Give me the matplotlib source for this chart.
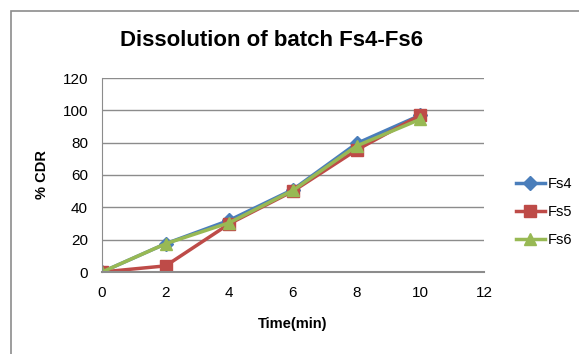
import numpy as np
import matplotlib
matplotlib.use("Agg")
import matplotlib.pyplot as plt
from matplotlib.patches import Rectangle

time_min = [0, 2, 4, 6, 8, 10]
fs4 = [0, 17.5, 32, 51, 79.5, 97]
fs5 = [0, 3.8, 29.8, 50, 75.5, 97]
fs6 = [0, 17.5, 30.5, 50.5, 78, 94.5]
series_names = ["Fs4", "Fs5", "Fs6"]

plt.rcParams['font.family'] = ['Liberation Sans Narrow', 'Liberation Sans', 'DejaVu Sans']

fig = plt.figure(figsize=(5.79, 3.54), dpi=100)
# outer chart border (partially cut by the image edge)
fig.patches.append(Rectangle((11/579, -0.1), 1.0, 1 - 11/354 + 0.1, transform=fig.transFigure,
                             fill=False, edgecolor="#8c8c8c", linewidth=1.2))

ax = fig.add_axes([102/579, 1 - 272/354, 382/579, 194/354])

ax.plot(time_min, fs4, color="#4a7ebb", marker="D", markersize=7, linewidth=2.5, label=series_names[0])
ax.plot(time_min, fs5, color="#be4b48", marker="s", markersize=8, linewidth=2.5, label=series_names[1])
ax.plot(time_min, fs6, color="#98b954", marker="^", markersize=9, linewidth=2.5, label=series_names[2])

ax.set_xlim(0, 12)
ax.set_ylim(0, 120)
ax.set_xticks(range(0, 13, 2))
ax.set_yticks(range(0, 121, 20))
ax.grid(axis="y", color="#8c8c8c", linewidth=1)
ax.set_axisbelow(True)
for s in ["top", "right"]:
    ax.spines[s].set_visible(False)
ax.spines["left"].set_color("#8c8c8c")
ax.spines["bottom"].set_color("#8c8c8c")
ax.spines["bottom"].set_linewidth(1.5)
ax.tick_params(length=0, labelsize=11, pad=10)
ax.tick_params(axis="y", pad=10)

ax.set_ylabel("% CDR", fontsize=10.5, fontweight="bold", labelpad=10)
ax.set_xlabel("Time(min)", fontsize=10.5, fontweight="bold", labelpad=12)
fig.text(272/579, 1 - 41/354, "Dissolution of batch Fs4-Fs6", ha="center", va="center",
         fontsize=16, fontweight="bold")

ax.legend(loc="center left", bbox_to_anchor=(1.045, 0.31), frameon=False, fontsize=10.5,
          handlelength=2.0, handletextpad=0.2, labelspacing=0.95, borderaxespad=0.6)

fig.savefig("out.png", dpi=100)
